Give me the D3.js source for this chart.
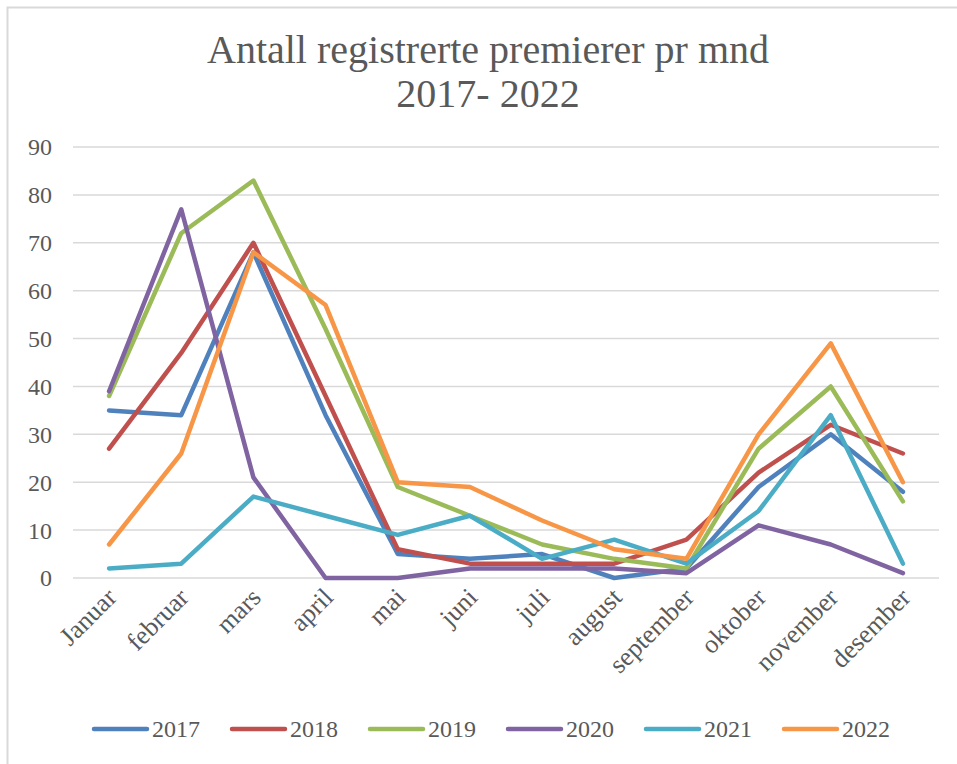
<!DOCTYPE html>
<html>
<head>
<meta charset="utf-8">
<script src="https://cdn.jsdelivr.net/npm/d3@7"></script>
<style>
  body { margin: 0; background: #fff; }
  svg { display: block; font-family: "Liberation Serif", "DejaVu Serif", serif; }
</style>
</head>
<body>
<svg id="chart" width="957" height="764"></svg>
<script>
// data
const months = ['Januar', 'februar', 'mars', 'april', 'mai', 'juni', 'juli', 'august', 'september', 'oktober', 'november', 'desember'];
const years = ['2017', '2018', '2019', '2020', '2021', '2022'];
const v2017 = [35, 34, 68, 34, 5, 4, 5, 0, 2, 19, 30, 18];
const v2018 = [27, 47, 70, 38, 6, 3, 3, 3, 8, 22, 32, 26];
const v2019 = [38, 72, 83, 52, 19, 13, 7, 4, 2, 27, 40, 16];
const v2020 = [39, 77, 21, 0, 0, 2, 2, 2, 1, 11, 7, 1];
const v2021 = [2, 3, 17, 13, 9, 13, 4, 8, 3, 14, 34, 3];
const v2022 = [7, 26, 68, 57, 20, 19, 12, 6, 4, 30, 49, 20];
const yTicks = [0, 10, 20, 30, 40, 50, 60, 70, 80, 90];

const seriesValues = [v2017, v2018, v2019, v2020, v2021, v2022];
const colors = ['#4F81BD', '#C0504D', '#9BBB59', '#8064A2', '#4BACC6', '#F79646'];

const svg = d3.select('#chart');

// chart border (runs off the bottom/right edge)
svg.append('rect')
    .attr('x', 7.5).attr('y', 7.5)
    .attr('width', 980).attr('height', 800)
    .attr('fill', 'none')
    .attr('stroke', '#d9d9d9')
    .attr('stroke-width', 2);

//title
const title = svg.append('text')
    .attr('text-anchor', 'middle')
    .attr('fill', '#595959')
    .style('font-size', '40px');
title.append('tspan').attr('x', 488).attr('y', 63).text('Antall registrerte premierer pr mnd');
title.append('tspan').attr('x', 488).attr('y', 107).text('2017- 2022');

const x = d3.scaleBand().domain(months).range([73, 939]);
const y = d3.scaleLinear().domain([0, 90]).range([578, 147]);

// gridlines
svg.append('g')
    .selectAll('line')
    .data(yTicks)
    .join('line')
    .attr('x1', 73).attr('x2', 939)
    .attr('y1', d => y(d)).attr('y2', d => y(d))
    .attr('stroke', '#d9d9d9')
    .attr('stroke-width', 1.5);

// y axis labels
svg.append('g')
    .selectAll('text')
    .data(yTicks)
    .join('text')
    .attr('x', 52)
    .attr('y', d => y(d))
    .attr('dy', '0.35em')
    .attr('text-anchor', 'end')
    .attr('fill', '#595959')
    .style('font-size', '24px')
    .text(d => d);

// x axis labels, rotated
svg.append('g')
    .selectAll('text')
    .data(months)
    .join('text')
    .attr('text-anchor', 'end')
    .attr('fill', '#595959')
    .style('font-size', '26px')
    .attr('transform', d => `translate(${x(d) + x.bandwidth() / 2 + 9},${599}) rotate(-45)`)
    .text(d => d);

const line = d3.line()
    .x((d, i) => x(months[i]) + x.bandwidth() / 2)
    .y(d => y(d));

svg.append('g')
    .selectAll('path')
    .data(seriesValues)
    .join('path')
    .attr('d', line)
    .attr('fill', 'none')
    .attr('stroke', (d, i) => colors[i])
    .attr('stroke-width', 4.5)
    .attr('stroke-linejoin', 'round')
    .attr('stroke-linecap', 'round');

// legend
const legend = svg.append('g')
    .selectAll('g')
    .data(years)
    .join('g')
    .attr('transform', (d, i) => `translate(${94 + i * 138},729)`);

legend.append('line')
    .attr('x1', 0).attr('x2', 53)
    .attr('stroke', (d, i) => colors[i])
    .attr('stroke-width', 4.5)
    .attr('stroke-linecap', 'round');

legend.append('text')
    .attr('x', 58)
    .attr('dy', '0.35em')
    .attr('fill', '#595959')
    .style('font-size', '24px')
    .text(d => d);
</script>
</body>
</html>
